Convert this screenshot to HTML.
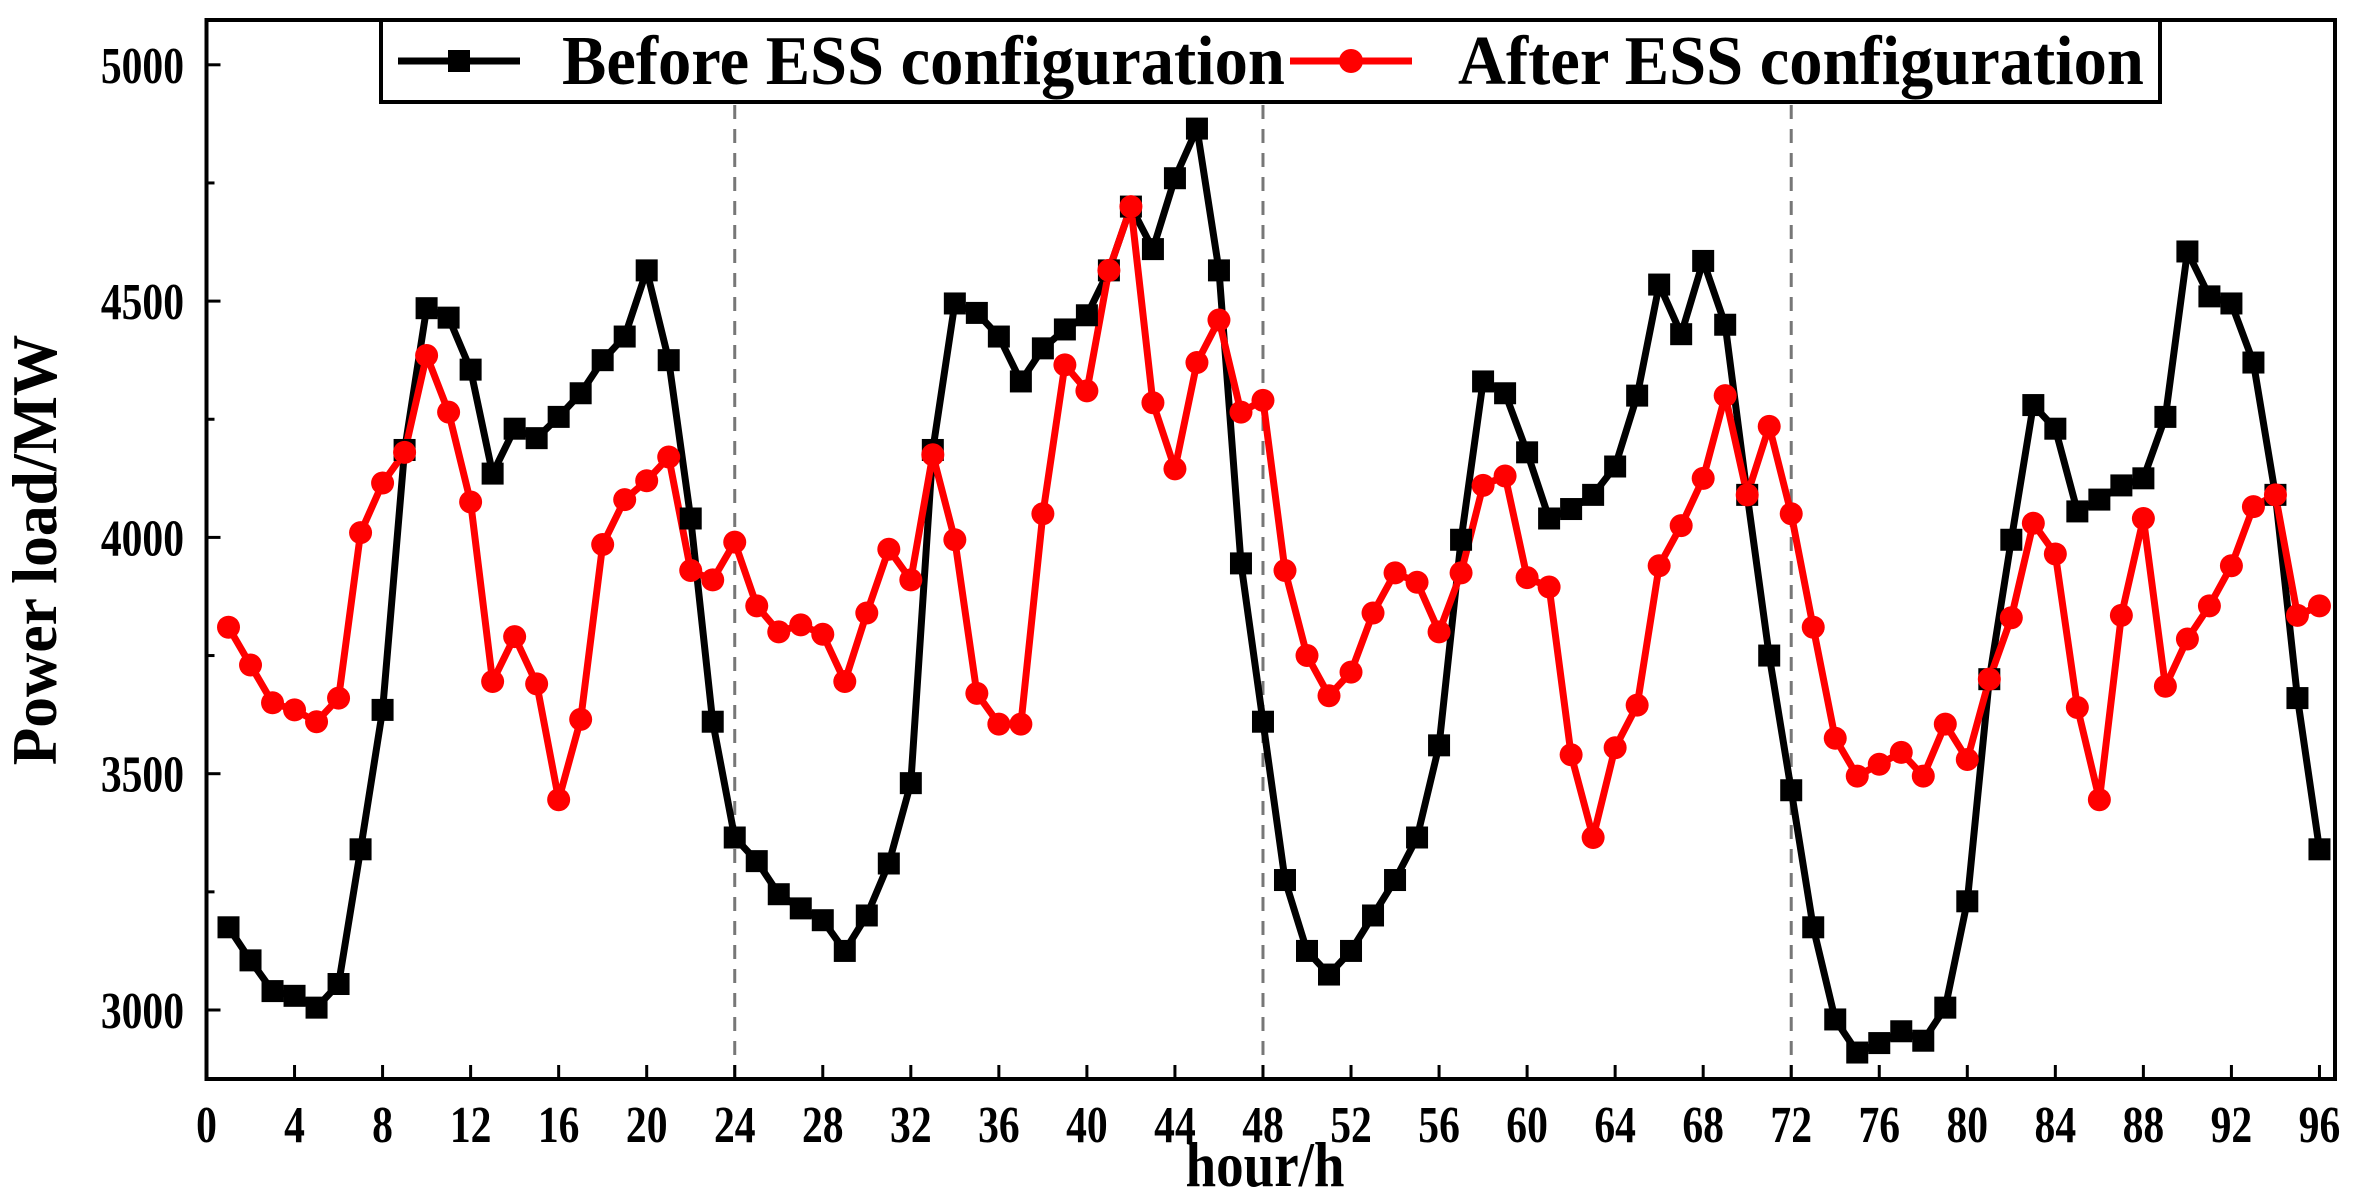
<!DOCTYPE html>
<html><head><meta charset="utf-8"><style>
html,body{margin:0;padding:0;background:#fff;}
svg text{font-family:"Liberation Serif",serif;font-weight:bold;fill:#000;}
</style></head><body>
<svg id="s" width="2362" height="1198" viewBox="0 0 2362 1198" xmlns="http://www.w3.org/2000/svg">
<rect x="0" y="0" width="2362" height="1198" fill="#fff"/>
<g id="grid"></g>
<g id="ser"></g>
<rect x="206.5" y="20" width="2128.5" height="1059" fill="none" stroke="#000" stroke-width="4"/>
<g id="ticks"></g>
<rect x="381" y="20" width="1779" height="82" fill="#fff" stroke="#000" stroke-width="4"/>
<line x1="398" y1="61" x2="520" y2="61" stroke="#000" stroke-width="7"/>
<rect x="448" y="50" width="22" height="22" fill="#000"/>
<text transform="translate(562,84) scale(0.95,1)" font-size="70">Before ESS configuration</text>
<line x1="1290" y1="61" x2="1412" y2="61" stroke="#f00" stroke-width="7"/>
<circle cx="1351" cy="61" r="12" fill="#f00"/>
<text transform="translate(1458,84) scale(0.95,1)" font-size="70">After ESS configuration</text>
<text transform="translate(1265,1186) scale(0.86,1)" font-size="64" text-anchor="middle">hour/h</text>
<text transform="translate(56,550) rotate(-90) scale(0.96,1)" font-size="64" text-anchor="middle">Power load/MW</text>
</svg>
<script>
var B=[3175,3105,3040,3030,3005,3055,3340,3635,4185,4485,4465,4355,4135,4230,4210,4255,4305,4375,4425,4565,4375,4040,3610,3365,3315,3245,3215,3190,3125,3200,3310,3480,4185,4495,4475,4425,4330,4400,4440,4470,4565,4700,4610,4760,4865,4565,3945,3610,3275,3125,3075,3125,3200,3275,3365,3560,3995,4330,4305,4180,4040,4060,4090,4150,4300,4535,4430,4585,4450,4090,3750,3465,3175,2980,2910,2930,2955,2935,3005,3230,3700,3995,4280,4230,4055,4080,4110,4125,4255,4605,4510,4495,4370,4090,3660,3340];
var R=[3810,3730,3650,3635,3610,3660,4010,4115,4180,4385,4265,4075,3695,3790,3690,3445,3615,3985,4080,4120,4170,3930,3910,3990,3855,3800,3815,3795,3695,3840,3975,3910,4175,3995,3670,3605,3605,4050,4365,4310,4565,4700,4285,4145,4370,4460,4265,4290,3930,3750,3665,3715,3840,3925,3905,3800,3925,4110,4130,3915,3895,3540,3365,3555,3645,3940,4025,4125,4300,4090,4235,4050,3810,3575,3495,3520,3545,3495,3605,3530,3700,3830,4030,3965,3640,3445,3835,4040,3685,3785,3855,3940,4065,4090,3835,3855];
function X(h){return 206.5+h*22.01;}
function Y(v){return 64.8+(5000-v)*0.4726;}
var NS="http://www.w3.org/2000/svg";
function el(p,t,a){var e=document.createElementNS(NS,t);for(var k in a)e.setAttribute(k,a[k]);p.appendChild(e);return e;}
var g=document.getElementById('grid'),s=document.getElementById('ser'),t=document.getElementById('ticks');
[24,48,72].forEach(function(h){el(g,'line',{x1:X(h),y1:105,x2:X(h),y2:1079,stroke:'#777','stroke-width':3,'stroke-dasharray':'14,10'});});
function poly(d,c){var p=d.map(function(v,i){return X(i+1).toFixed(1)+','+Y(v).toFixed(1);}).join(' ');el(s,'polyline',{points:p,fill:'none',stroke:c,'stroke-width':7,'stroke-linejoin':'round'});}
poly(B,'#000');poly(R,'#f00');
B.forEach(function(v,i){el(s,'rect',{x:X(i+1)-11,y:Y(v)-11,width:22,height:22,fill:'#000'});});
R.forEach(function(v,i){el(s,'circle',{cx:X(i+1),cy:Y(v),r:11.5,fill:'#f00'});});
for(var h=0;h<=96;h+=4){el(t,'line',{x1:X(h),y1:1079,x2:X(h),y2:1065,stroke:'#000','stroke-width':3});var tx=el(t,'text',{transform:'translate('+X(h)+',1142) scale(0.8,1)','font-size':52,'text-anchor':'middle'});tx.textContent=h;}
for(var v=3000;v<=5000;v+=250){var len=(v%500==0)?14:8;el(t,'line',{x1:206.5,y1:Y(v),x2:206.5+len,y2:Y(v),stroke:'#000','stroke-width':3});if(v%500==0){var ty=el(t,'text',{transform:'translate(184,'+(Y(v)+18)+') scale(0.8,1)','font-size':52,'text-anchor':'end'});ty.textContent=v;}}
</script>
</body></html>
